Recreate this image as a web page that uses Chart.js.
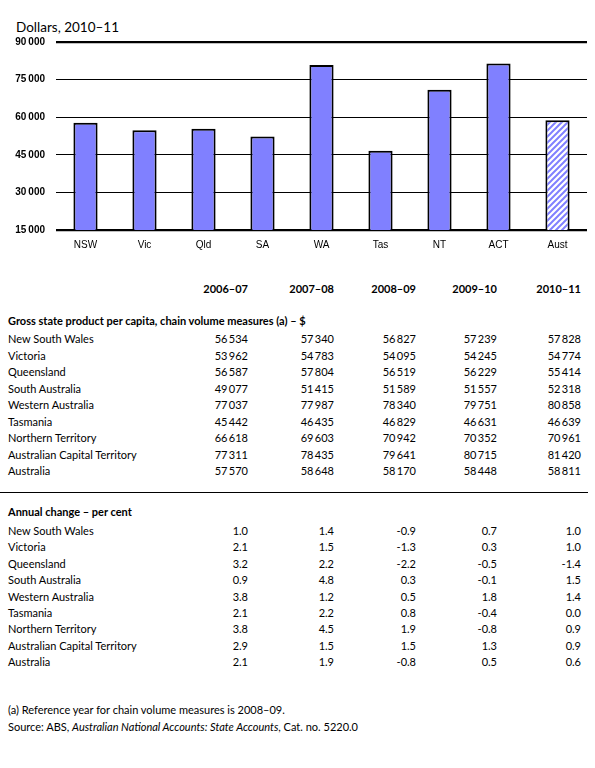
<!DOCTYPE html>
<html>
<head>
<meta charset="utf-8">
<script src="https://cdn.jsdelivr.net/npm/chart.js@4"></script>
<style>
  body { margin: 0; background: #fff; font-family: Lato, "Open Sans", sans-serif; color: #000; }
  #page { position: relative; width: 595px; height: 768px; overflow: hidden; }
  #title { position: absolute; left: 16px; top: 19px; font-size: 13.5px; }
  #chartBox { position: absolute; left: 0; top: 0; width: 595px; height: 277px; }
  .row { position: absolute; left: 0; width: 595px; height: 16px; line-height: 16px; font-size: 11px; white-space: nowrap; }
  .row span { position: absolute; }
  .b { font-weight: bold; }
  #rule { position: absolute; left: 0; top: 492px; width: 588px; height: 0; border-top: 1px solid #000; }
</style>
</head>
<body>
<div id="page">
  <div id="title">Dollars, 2010–11</div>
  <div id="chartBox"><canvas id="bars"></canvas></div>
  <div id="table"></div>
  <div id="rule"></div>
</div>
<script>
// chart categories (short state names)
const states = ["NSW", "Vic", "Qld", "SA", "WA", "Tas", "NT", "ACT", "Aust"];
const yTicks = [15000, 30000, 45000, 60000, 75000, 90000];

// table
const years = ["2006–07", "2007–08", "2008–09", "2009–10", "2010–11"];
const regions = ["New South Wales", "Victoria", "Queensland", "South Australia", "Western Australia",
  "Tasmania", "Northern Territory", "Australian Capital Territory", "Australia"];

// gross state product per capita, $
const gsp0607 = [56534, 53962, 56587, 49077, 77037, 45442, 66618, 77311, 57570];
const gsp0708 = [57340, 54783, 57804, 51415, 77987, 46435, 69603, 78435, 58648];
const gsp0809 = [56827, 54095, 56519, 51589, 78340, 46829, 70942, 79641, 58170];
const gsp0910 = [57239, 54245, 56229, 51557, 79751, 46631, 70352, 80715, 58448];
const gsp1011 = [57828, 54774, 55414, 52318, 80858, 46639, 70961, 81420, 58811];

// annual change, per cent
const chg0607 = [1.0, 2.1, 3.2, 0.9, 3.8, 2.1, 3.8, 2.9, 2.1];
const chg0708 = [1.4, 1.5, 2.2, 4.8, 1.2, 2.2, 4.5, 1.5, 1.9];
const chg0809 = [-0.9, -1.3, -2.2, 0.3, 0.5, 0.8, 1.9, 1.5, -0.8];
const chg0910 = [0.7, 0.3, -0.5, -0.1, 1.8, -0.4, -0.8, 1.3, 0.5];
const chg1011 = [1.0, 1.0, -1.4, 1.5, 1.4, 0.0, 0.9, 0.9, 0.6];

const colEdges = [248, 334, 416, 497, 581];

function fmtThousands(v) {
  return String(v).replace(/\B(?=(\d{3})+(?!\d))/g, "\u2009");
}

function addRow(y, label, vals, bold) {
  const row = document.createElement("div");
  row.className = "row" + (bold ? " b" : "");
  row.style.top = (y - 8) + "px";
  if (label) {
    const s = document.createElement("span");
    s.style.left = "8px";
    s.textContent = label;
    row.appendChild(s);
  }
  (vals || []).forEach((v, i) => {
    const s = document.createElement("span");
    s.style.right = (595 - colEdges[i]) + "px";
    s.textContent = v;
    row.appendChild(s);
  });
  document.getElementById("table").appendChild(row);
}

function buildTable() {
  addRow(289, null, years, true);
  addRow(321, "Gross state product per capita, chain volume measures (a) – $", null, true);
  const gsp = [gsp0607, gsp0708, gsp0809, gsp0910, gsp1011];
  regions.forEach((r, i) => {
    addRow(339 + i * 16.5, r, gsp.map(col => fmtThousands(col[i])));
  });
  addRow(512, "Annual change – per cent", null, true);
  const chg = [chg0607, chg0708, chg0809, chg0910, chg1011];
  regions.forEach((r, i) => {
    addRow(531 + i * 16.4, r, chg.map(col => col[i].toFixed(1)));
  });
  addRow(710, "(a) Reference year for chain volume measures is 2008–09.");
  const src = document.createElement("div");
  src.className = "row";
  src.style.top = "719px";
  src.innerHTML = '<span style="left:8px">Source: ABS, <i>Australian National Accounts: State Accounts</i>, Cat. no. 5220.0</span>';
  document.getElementById("table").appendChild(src);
}

function hatch() {
  const c = document.createElement("canvas");
  c.width = 6; c.height = 6;
  const g = c.getContext("2d");
  g.fillStyle = "#fff";
  g.fillRect(0, 0, 6, 6);
  g.strokeStyle = "#8080ff";
  g.lineWidth = 2;
  g.beginPath();
  g.moveTo(-1, 7); g.lineTo(7, -1);
  g.moveTo(-4, 4); g.lineTo(4, -4);
  g.moveTo(2, 10); g.lineTo(10, 2);
  g.stroke();
  return g.createPattern(c, "repeat");
}

function renderBars() {
  const fills = states.map(s => s === "Aust" ? hatch() : "#8080ff");
  new Chart(document.getElementById("bars"), {
    type: "bar",
    data: {
      labels: states,
      datasets: [{
        data: gsp1011,
        backgroundColor: fills,
        borderColor: "#000",
        borderWidth: 2,
        barPercentage: 0.41,
        categoryPercentage: 1
      }]
    },
    options: {
      responsive: true,
      maintainAspectRatio: false,
      animation: false,
      layout: { padding: { top: 42, right: 8, bottom: 25, left: 0 } },
      plugins: { legend: { display: false }, tooltip: { enabled: false } },
      scales: {
        x: {
          grid: { display: false },
          border: { display: false },
          ticks: { color: "#000", font: { size: 10 }, padding: 1, maxRotation: 0 }
        },
        y: {
          min: 15000,
          max: 90000,
          afterFit: scale => { scale.width = 56; },
          afterBuildTicks: scale => { scale.ticks = yTicks.map(v => ({ value: v })); },
          border: { display: false },
          grid: {
            color: "#000",
            drawTicks: false,
            lineWidth: c => (c.tick && (c.tick.value === 90000 || c.tick.value === 15000)) ? 2.2 : 1
          },
          ticks: {
            color: "#000",
            padding: 11,
            font: { size: 10, weight: "bold" },
            callback: v => fmtThousands(v)
          }
        }
      }
    }
  });
}

buildTable();
renderBars();
</script>
</body>
</html>
